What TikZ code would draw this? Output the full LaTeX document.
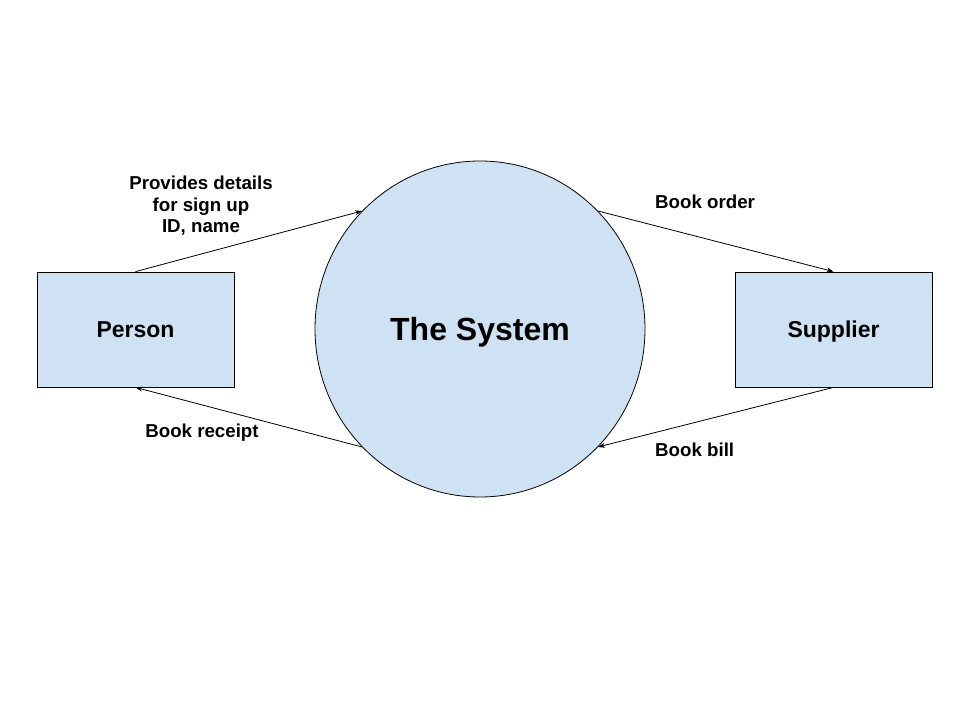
\documentclass[tikz,border=0pt]{standalone}
\usepackage{fontspec}
\setmainfont{Liberation Sans}
\usetikzlibrary{shapes.geometric,arrows.meta}
\definecolor{boxblue}{HTML}{CFE2F3}
\begin{document}
\begin{tikzpicture}[x=1pt,y=1pt,
  entity/.style={draw=black,fill=boxblue,line width=0.8pt,minimum width=197pt,minimum height=115pt,text depth=0pt,font=\fontsize{23}{27}\selectfont\bfseries},
  process/.style={ellipse,draw=black,fill=boxblue,line width=0.8pt,minimum width=330pt,minimum height=336pt,inner sep=0pt,text depth=0pt,font=\fontsize{32}{38}\selectfont\bfseries},
  flow/.style={-{Stealth[length=7pt,width=5pt]},line width=0.8pt},
  lbl/.style={font=\fontsize{18.7}{21.5}\selectfont\bfseries,align=center,inner sep=0pt}]
\useasboundingbox (0,0) rectangle (960,720);
\node[entity] (person) at (135.5,390.5) {Person};
\node[entity] (supplier) at (833.5,390.5) {Supplier};
\node[process] (system) at (480,391) {The System};
\draw[flow] (person.north) -- (system.135);
\draw[flow] (system.45) -- (supplier.north);
\draw[flow] (supplier.south) -- (system.315);
\draw[flow] (system.225) -- (person.south);
\node[lbl] (signup) at (201,514) {Provides details\\for sign up\\ID, name};
\node[lbl,anchor=west] (order) at (655,518) {Book order};
\node[lbl] (receipt) at (202,287) {Book receipt};
\node[lbl,anchor=west] (bill) at (655,270) {Book bill};
\end{tikzpicture}
\end{document}
